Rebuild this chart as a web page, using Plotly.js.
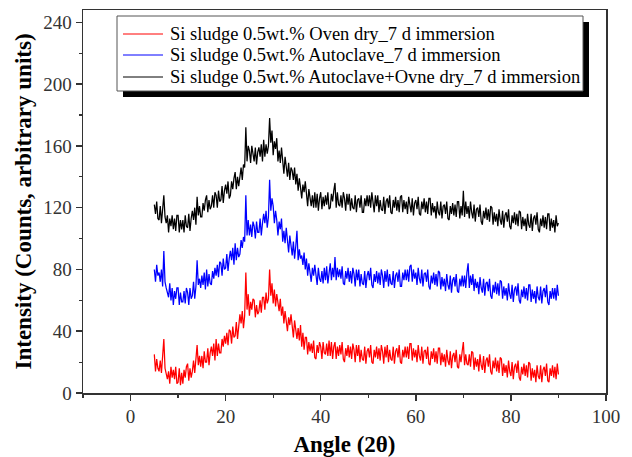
<!DOCTYPE html>
<html>
<head>
<meta charset="utf-8">
<script src="https://cdn.plot.ly/plotly-3.0.1.min.js"></script>
<style>html,body{margin:0;padding:0;background:#fff}#chart{width:632px;height:457px}</style>
</head>
<body>
<div id="chart"></div>
<script>
// Sampling grid of the diffractogram (degrees 2θ)
const angleStart = 5;
const angleStep = 0.25;

const seriesNames = [
  "Si sludge 0.5wt.% Oven dry_7 d immersion",
  "Si sludge 0.5wt.% Autoclave_7 d immersion",
  "Si sludge 0.5wt.% Autoclave+Ovne dry_7 d immersion"
];
const seriesColors = ["#ff0000", "#0000ff", "#000000"];

// Values, every 0.25° from 5° to 90°
const ovenDry = [
25,14,22,16, 14,21,13,23, 35,16,12,9, 14,6,17,10, 15,9,17,6, 7,16,5,13, 6,15,10,17, 19,8,16,10,
14,21,13,23, 31,18,24,17, 24,16,27,20, 20,29,18,26, 30,24,32,21, 35,24,32,26, 26,35,30,37, 32,39,31,41,
40,32,43,36, 37,46,35,43, 51,45,53,42, 50,78,54,64, 50,59,54,61, 60,49,57,51, 53,60,52,62, 62,54,65,58,
61,80,63,71, 58,67,56,64, 59,53,61,50, 56,45,53,47, 40,49,44,51, 44,36,47,40, 35,42,34,44, 30,39,28,36,
36,25,33,27, 32,26,34,23, 22,31,26,33, 30,22,33,26, 25,32,24,34, 24,33,22,30, 33,22,30,24, 31,25,33,22,
20,29,24,31, 23,30,22,32, 28,20,31,24, 31,20,28,22, 21,30,19,27, 29,23,31,20, 19,28,23,30, 22,29,21,31,
27,19,30,23, 31,20,28,22, 21,30,19,27, 29,23,31,20, 19,28,23,30, 23,30,22,32, 32,21,29,23, 28,20,31,24,
21,30,19,27, 28,22,30,19, 18,27,22,29, 20,27,19,29, 29,18,26,20, 25,17,28,21, 18,27,16,24, 26,20,28,17,
16,25,20,27, 33,18,25,19, 18,25,17,27, 26,15,23,17, 22,14,25,18, 15,24,13,21, 23,17,25,14, 12,21,16,23,
14,21,13,23, 22,11,19,13, 18,10,21,14, 11,20,9,17, 19,13,21,10, 8,17,12,19, 11,18,10,20, 19,8,16,10,
15,7,18,11, 9,18,7,15, 17,11,19,8, 7,16,11,18, 10,17,9,19, 12
];
const autoclave = [
80,72,83,76, 78,72,80,69, 92,72,68,65, 62,71,60,68, 57,66,61,68, 68,57,65,59, 59,66,58,68, 65,57,68,61,
63,72,61,69, 86,70,74,68, 76,70,78,67, 80,69,77,71, 70,79,74,81, 76,83,75,85, 84,76,87,80, 81,90,79,87,
92,86,94,83, 97,86,94,88, 90,99,94,101, 98,128,102,112, 102,109,101,111, 108,100,111,104, 104,113,102,110, 116,110,118,107,
114,138,118,126, 121,110,118,112, 102,111,106,113, 98,105,97,107, 99,91,102,95, 89,98,87,95, 105,86,93,87, 89,83,91,80,
87,76,84,78, 72,81,76,83, 78,70,81,74, 72,79,71,81, 73,82,71,79, 84,73,81,75, 88,73,81,75, 80,74,82,71,
70,79,74,81, 72,79,71,81, 77,69,80,73, 80,69,77,71, 70,79,68,76, 79,73,81,70, 68,77,72,79, 71,78,70,80,
76,68,79,72, 80,69,77,71, 70,79,68,76, 78,72,80,69, 69,78,73,80, 73,80,72,82, 83,72,80,74, 78,70,81,74,
71,80,69,77, 78,72,80,69, 67,76,71,78, 70,77,69,79, 78,67,75,69, 74,66,77,70, 67,76,65,73, 75,69,77,66,
65,74,69,76, 69,76,68,78, 84,68,76,70, 77,66,74,68, 72,64,75,68, 65,74,63,71, 72,66,74,63, 61,70,65,72,
64,71,63,73, 72,61,69,63, 68,60,71,64, 61,70,59,67, 69,63,71,60, 58,67,62,69, 61,68,60,70, 70,59,67,61,
66,58,69,62, 60,69,58,66, 68,62,70,59, 57,66,61,68, 61,68,60,70, 63
];
const autoclaveOven = [
122,116,124,113, 112,121,110,118, 128,114,110,115, 104,113,108,115, 106,113,105,115, 115,104,112,106, 112,104,115,108, 107,116,105,113,
118,112,120,109, 127,115,121,114, 114,123,118,125, 128,117,125,119, 121,128,120,130, 128,120,131,124, 125,134,123,131, 135,129,137,126,
128,137,132,139, 143,132,140,134, 139,146,138,148, 146,172,150,160, 157,149,160,153, 150,159,148,156, 159,153,161,150, 164,153,161,155,
160,178,162,170, 154,163,158,165, 150,157,149,159, 150,142,153,146, 140,149,138,146, 144,138,146,135, 142,131,139,133, 126,135,130,137,
129,121,132,125, 121,128,120,130, 120,129,118,126, 130,119,127,121, 128,122,130,119, 120,129,124,131, 136,120,130,122, 121,128,120,130,
126,118,129,122, 129,118,126,120, 119,128,117,125, 126,120,128,117, 117,126,121,128, 121,128,120,130, 125,117,128,121, 128,117,125,119,
118,127,116,124, 126,120,128,117, 116,125,120,127, 118,125,117,127, 128,117,125,119, 124,116,127,120, 117,126,115,123, 125,119,127,116,
115,124,119,126, 117,124,116,126, 126,115,123,117, 121,113,124,117, 115,124,113,121, 122,116,124,113, 112,121,116,123, 115,122,114,124,
124,113,121,115, 131,114,124,116, 121,113,124,117, 113,122,111,119, 120,114,122,111, 109,118,113,120, 112,119,111,121, 120,109,117,111,
116,108,119,112, 109,118,107,115, 117,111,119,108, 106,115,110,117, 109,116,108,118, 117,106,114,108, 113,105,116,109, 107,116,105,113,
115,109,117,106, 104,113,108,115, 107,114,106,116, 116,105,113,107, 112,104,115,108, 110
];

const xTickVals = [0, 20, 40, 60, 80, 100];
const yTickVals = [0, 40, 80, 120, 160, 200, 240];

const angles = ovenDry.map((_, i) => angleStart + i * angleStep);
const seriesValues = [ovenDry, autoclave, autoclaveOven];

const traces = seriesValues.map((vals, k) => ({
  type: "scatter",
  mode: "lines",
  x: angles,
  y: vals,
  name: seriesNames[k],
  showlegend: false,
  line: {color: seriesColors[k], width: 1.25}
}));

// plot area in pixels (for legend box placement)
const M = {l: 83, r: 26, t: 10, b: 64};
const PW = 632 - M.l - M.r, PH = 457 - M.t - M.b;
const px = v => (v - M.l) / PW;
const py = v => (457 - M.b - v) / PH;

const serif = "Liberation Serif, Times New Roman, serif";
const axisCommon = {
  showgrid: false,
  zeroline: false,
  showline: true,
  mirror: true,
  linecolor: "#333",
  linewidth: 1.5,
  ticks: "outside",
  ticklen: 6,
  tickwidth: 1.5,
  tickcolor: "#333",
  tickfont: {family: serif, size: 19, color: "#333"}
};

const legendRows = [34, 55, 77];
const shapes = [
  {type: "rect", xref: "paper", yref: "paper", layer: "above",
   x0: px(123), x1: px(589), y0: py(97), y1: py(22),
   fillcolor: "#000", line: {width: 0}},
  {type: "rect", xref: "paper", yref: "paper", layer: "above",
   x0: px(117), x1: px(583), y0: py(91), y1: py(16),
   fillcolor: "#fff", line: {color: "#555", width: 1}}
];
const annotations = [];
legendRows.forEach((r, k) => {
  shapes.push({type: "line", xref: "paper", yref: "paper", layer: "above",
    x0: px(123), x1: px(163), y0: py(r), y1: py(r),
    line: {color: seriesColors[k], width: 1}});
  annotations.push({xref: "paper", yref: "paper", x: px(168), y: py(r),
    xanchor: "left", yanchor: "middle", showarrow: false,
    text: seriesNames[k], font: {family: serif, size: 18.5, color: "#000"}});
});

const layout = {
  width: 632,
  height: 457,
  margin: M,
  paper_bgcolor: "#fff",
  plot_bgcolor: "#fff",
  showlegend: false,
  xaxis: Object.assign({}, axisCommon, {
    range: [-10, 100],
    tickvals: xTickVals,
    minor: {dtick: 10, tick0: 0, ticks: "outside", ticklen: 3, tickwidth: 1.2, tickcolor: "#333"},
    title: {text: "<b>Angle (2θ)</b>", font: {family: serif, size: 23, color: "#000"}, standoff: 12}
  }),
  yaxis: Object.assign({}, axisCommon, {
    range: [0, 248],
    tickvals: yTickVals,
    minor: {dtick: 20, tick0: 0, ticks: "outside", ticklen: 3, tickwidth: 1.2, tickcolor: "#333"},
    title: {text: "<b>Intensity (Counts, arbitrary units)</b>", font: {family: serif, size: 23, color: "#000"}, standoff: 5}
  }),
  shapes: shapes,
  annotations: annotations
};

Plotly.newPlot("chart", traces, layout, {displayModeBar: false, staticPlot: true});
</script>
</body>
</html>
